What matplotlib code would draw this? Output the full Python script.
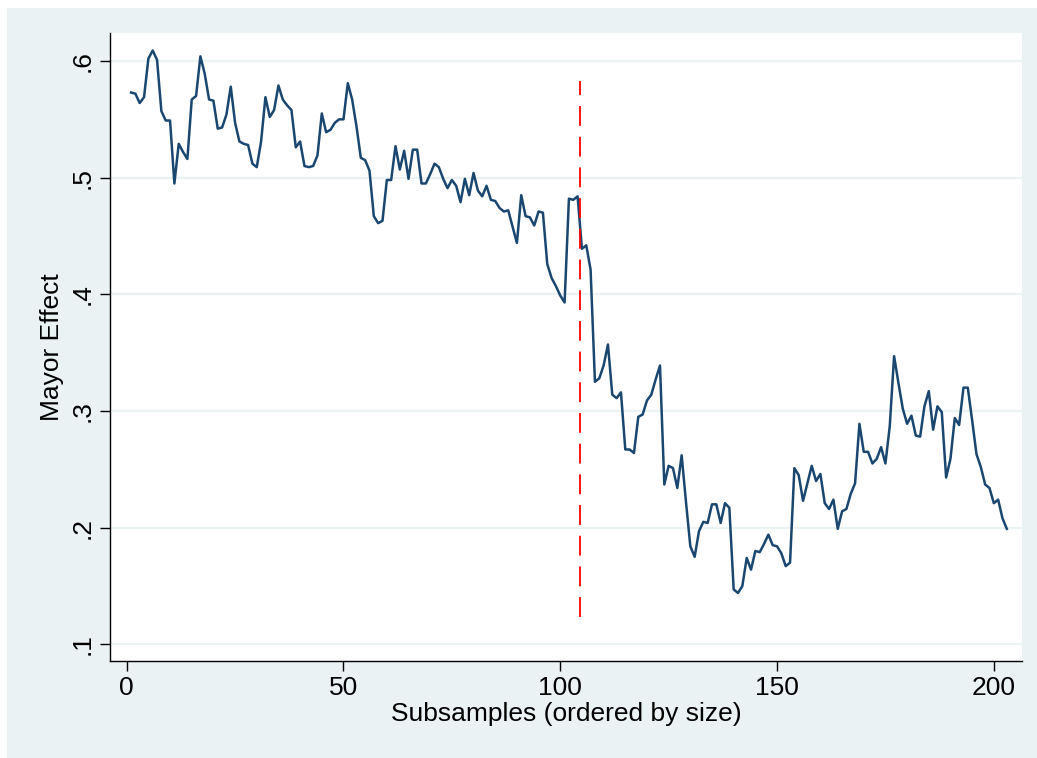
import numpy as np
import matplotlib
matplotlib.use("Agg")
import matplotlib.pyplot as plt
from matplotlib.patches import Rectangle

# valores (subsamples 1..203)
efecto = [
    0.573, 0.572, 0.564, 0.569, 0.602, 0.609, 0.601, 0.557, 0.549, 0.549,
    0.495, 0.529, 0.522, 0.516, 0.567, 0.570, 0.604, 0.589, 0.567, 0.566,
    0.542, 0.543, 0.554, 0.578, 0.547, 0.531, 0.529, 0.528, 0.512, 0.509,
    0.531, 0.569, 0.552, 0.558, 0.579, 0.567, 0.562, 0.558, 0.526, 0.531,
    0.510, 0.509, 0.510, 0.519, 0.555, 0.539, 0.541, 0.547, 0.550, 0.550,
    0.581, 0.567, 0.544, 0.517, 0.515, 0.506, 0.467, 0.461, 0.463, 0.498,
    0.498, 0.527, 0.507, 0.523, 0.499, 0.524, 0.524, 0.495, 0.495, 0.503,
    0.512, 0.509, 0.499, 0.491, 0.498, 0.493, 0.479, 0.499, 0.485, 0.504,
    0.489, 0.484, 0.493, 0.481, 0.480, 0.474, 0.471, 0.472, 0.458, 0.444,
    0.485, 0.467, 0.466, 0.459, 0.471, 0.470, 0.426, 0.414, 0.407, 0.399,
    0.393, 0.482, 0.481, 0.484, 0.439, 0.442, 0.421, 0.325, 0.328, 0.339,
    0.357, 0.314, 0.311, 0.316, 0.267, 0.267, 0.264, 0.295, 0.297, 0.309,
    0.314, 0.327, 0.339, 0.237, 0.253, 0.251, 0.234, 0.262, 0.222, 0.184,
    0.175, 0.197, 0.205, 0.204, 0.220, 0.220, 0.204, 0.221, 0.217, 0.147,
    0.144, 0.150, 0.174, 0.164, 0.180, 0.179, 0.186, 0.194, 0.185, 0.184,
    0.178, 0.167, 0.170, 0.251, 0.245, 0.223, 0.238, 0.253, 0.240, 0.246,
    0.221, 0.216, 0.224, 0.199, 0.214, 0.216, 0.229, 0.238, 0.289, 0.265,
    0.265, 0.255, 0.259, 0.269, 0.255, 0.287, 0.347, 0.324, 0.302, 0.289,
    0.296, 0.279, 0.278, 0.304, 0.317, 0.284, 0.304, 0.299, 0.243, 0.259,
    0.294, 0.288, 0.320, 0.320, 0.292, 0.263, 0.252, 0.237, 0.234, 0.221,
    0.224, 0.208, 0.199,
]
submuestras = np.arange(1, len(efecto) + 1)

corte_x = 104.5
corte_y = [0.123, 0.583]

x_ticks = [0, 50, 100, 150, 200]
y_ticks = [0.1, 0.2, 0.3, 0.4, 0.5, 0.6]
y_labels = [".1", ".2", ".3", ".4", ".5", ".6"]

fondo = "#eaf2f3"
azul = "#1a476f"

plt.rcParams['font.family'] = ['Liberation Sans', 'DejaVu Sans']

fig = plt.figure(figsize=(10.37, 7.58), dpi=100, facecolor="white")
marco = Rectangle((7 / 1037, 0), 1 - 7 / 1037, 1 - 8 / 758,
                  transform=fig.transFigure, facecolor=fondo,
                  edgecolor="none", zorder=-10)
fig.add_artist(marco)

ax = fig.add_axes([110 / 1037, 1 - 661 / 758, (1022 - 110) / 1037, (661 - 33) / 758])
ax.set_zorder(1)
ax.set_facecolor("white")

ax.plot(submuestras, efecto, color=azul, lw=1.8, zorder=3)
ax.plot([corte_x, corte_x], corte_y, color="red", lw=1.3,
        dashes=(11, 6), zorder=4)

ax.set_xlim(-3.85, 206.5)
ax.set_ylim(0.0857, 0.624)
ax.set_xticks(x_ticks)
ax.set_yticks(y_ticks)
ax.set_yticklabels(y_labels, rotation=90, va="center")
ax.grid(axis="y", color=fondo, lw=1.6, zorder=1)
ax.set_axisbelow(True)

for lado in ["top", "right"]:
    ax.spines[lado].set_visible(False)
for lado in ["left", "bottom"]:
    ax.spines[lado].set_color("black")
    ax.spines[lado].set_linewidth(1.0)

ax.tick_params(axis="both", length=7, width=1, labelsize=19, pad=4)
ax.set_xlabel("Subsamples (ordered by size)", fontsize=19, labelpad=1)
ax.set_ylabel("Mayor Effect", fontsize=19, labelpad=5)

fig.savefig("out.png", dpi=100, facecolor=fig.get_facecolor())
